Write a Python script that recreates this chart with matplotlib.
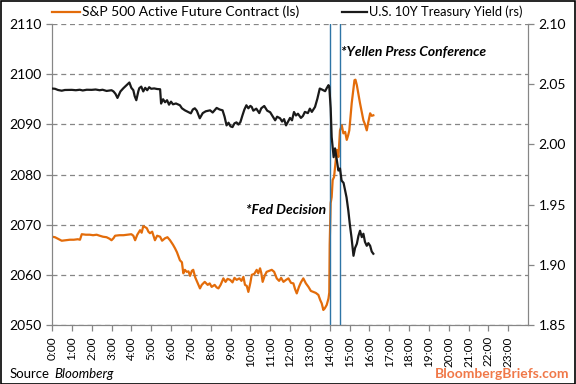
"""S&P 500 futures vs US 10Y yield around the Fed decision (intraday)."""

import matplotlib
matplotlib.use("Agg")
import matplotlib.pyplot as plt
from matplotlib.lines import Line2D
from matplotlib.patches import Rectangle

plt.rcParams["font.family"] = ["Lato", "DejaVu Sans"]

# intraday time in hours (0 = midnight)
sp_hours = [
    0.00, 0.15, 0.30, 0.49, 0.70, 0.90, 1.10, 1.30, 1.41, 1.50, 1.70, 1.90,
    2.07, 2.25, 2.40, 2.57, 2.75, 2.90, 3.00, 3.10, 3.18, 3.40, 3.60, 3.80,
    4.00, 4.10, 4.19, 4.30, 4.44, 4.52, 4.60, 4.70, 4.78, 4.86, 4.94, 5.05,
    5.19, 5.30, 5.45, 5.55, 5.70, 5.82, 5.95, 6.10, 6.20, 6.30, 6.45, 6.55,
    6.62, 6.70, 6.79, 6.88, 6.96, 7.05, 7.12, 7.22, 7.32, 7.46, 7.55, 7.70,
    7.85, 7.95, 8.05, 8.20, 8.30, 8.39, 8.50, 8.64, 8.75, 8.85, 8.98, 9.10,
    9.20, 9.31, 9.45, 9.55, 9.65, 9.73, 9.82, 9.90, 10.00, 10.07, 10.20, 10.32,
    10.40, 10.49, 10.55, 10.62, 10.72, 10.82, 10.95, 11.08, 11.20, 11.33, 11.45, 11.55,
    11.67, 11.80, 11.92, 12.05, 12.17, 12.25, 12.34, 12.45, 12.55, 12.67, 12.80, 12.93,
    13.05, 13.18, 13.30, 13.43, 13.52, 13.60, 13.68, 13.75, 13.85, 13.94, 13.98, 14.00,
    14.05, 14.10, 14.15, 14.22, 14.27, 14.36, 14.44, 14.52, 14.61, 14.69, 14.78, 14.86,
    14.93, 14.99, 15.05, 15.11, 15.18, 15.25, 15.30, 15.37, 15.45, 15.53, 15.62, 15.70,
    15.78, 15.87, 15.95, 16.04, 16.12, 16.20,
]
sp_values = [
    2067.6, 2067.5, 2067.2, 2066.8, 2066.9, 2067.0, 2067.0, 2067.1, 2067.0, 2068.1, 2068.0, 2068.0,
    2067.9, 2068.0, 2067.8, 2067.6, 2067.5, 2067.2, 2066.9, 2067.3, 2067.8, 2067.9, 2067.9, 2068.0,
    2068.1, 2067.8, 2066.9, 2068.0, 2068.9, 2068.4, 2069.7, 2069.5, 2069.3, 2068.6, 2068.3, 2068.6,
    2066.9, 2067.8, 2067.6, 2066.8, 2067.3, 2067.5, 2066.9, 2066.0, 2065.3, 2064.5, 2062.9, 2062.5,
    2060.3, 2061.0, 2060.6, 2060.7, 2059.8, 2060.8, 2061.0, 2059.5, 2058.6, 2057.3, 2058.0, 2058.6,
    2058.0, 2058.3, 2057.6, 2058.0, 2057.5, 2057.3, 2058.0, 2059.3, 2058.6, 2059.2, 2059.0, 2058.5,
    2059.4, 2059.0, 2059.3, 2058.8, 2059.6, 2058.0, 2057.8, 2056.6, 2058.4, 2060.0, 2060.2, 2061.0,
    2060.3, 2061.3, 2060.4, 2058.6, 2059.8, 2060.6, 2060.8, 2061.0, 2060.6, 2059.3, 2058.8, 2059.4,
    2058.6, 2059.0, 2059.3, 2058.4, 2058.3, 2057.2, 2056.3, 2057.6, 2058.5, 2059.3, 2058.3, 2057.6,
    2056.8, 2056.6, 2056.4, 2056.0, 2055.0, 2054.3, 2053.0, 2053.3, 2054.0, 2055.3, 2056.5, 2066.0,
    2074.3, 2075.5, 2078.9, 2079.5, 2081.5, 2084.9, 2083.5, 2088.8, 2089.8, 2088.2, 2088.5, 2086.9,
    2087.8, 2088.8, 2091.5, 2094.2, 2096.5, 2098.8, 2098.9, 2097.8, 2096.0, 2094.2, 2092.4, 2090.8,
    2090.0, 2088.8, 2090.5, 2092.2, 2091.7, 2091.8,
]

ty_hours = [
    0.00, 0.15, 0.30, 0.49, 0.65, 0.85, 1.00, 1.20, 1.40, 1.55, 1.75, 2.00,
    2.20, 2.40, 2.55, 2.75, 3.00, 3.10, 3.20, 3.30, 3.45, 3.60, 3.75, 3.90,
    4.00, 4.10, 4.17, 4.25, 4.35, 4.40, 4.50, 4.60, 4.70, 4.80, 4.90, 5.00,
    5.15, 5.30, 5.45, 5.50, 5.60, 5.70, 5.80, 5.90, 6.00, 6.10, 6.25, 6.45,
    6.55, 6.70, 6.85, 7.00, 7.10, 7.20, 7.30, 7.45, 7.60, 7.75, 7.97, 8.10,
    8.30, 8.45, 8.60, 8.70, 8.80, 8.90, 9.00, 9.10, 9.20, 9.30, 9.40, 9.50,
    9.60, 9.70, 9.80, 9.90, 10.00, 10.07, 10.15, 10.30, 10.45, 10.55, 10.70, 10.85,
    11.00, 11.10, 11.25, 11.35, 11.50, 11.60, 11.70, 11.80, 11.90, 12.00, 12.10, 12.20,
    12.30, 12.40, 12.55, 12.65, 12.75, 12.90, 13.00, 13.10, 13.26, 13.38, 13.50, 13.62,
    13.77, 13.86, 13.94, 13.98, 14.05, 14.10, 14.20, 14.27, 14.35, 14.44, 14.52, 14.60,
    14.70, 14.78, 14.85, 14.94, 15.02, 15.10, 15.20, 15.28, 15.37, 15.45, 15.53, 15.62,
    15.70, 15.78, 15.87, 15.95, 16.04, 16.12, 16.20,
]
ty_values = [
    2.0464, 2.0462, 2.0452, 2.0446, 2.0452, 2.0453, 2.0453, 2.0450, 2.0454, 2.0448, 2.0454, 2.0453,
    2.0456, 2.0450, 2.0454, 2.0444, 2.0450, 2.0440, 2.0420, 2.0386, 2.0440, 2.0467, 2.0490, 2.0514,
    2.0470, 2.0450, 2.0400, 2.0367, 2.0440, 2.0467, 2.0480, 2.0440, 2.0470, 2.0450, 2.0475, 2.0462,
    2.0465, 2.0460, 2.0458, 2.0339, 2.0375, 2.0350, 2.0367, 2.0330, 2.0355, 2.0333, 2.0340, 2.0325,
    2.0300, 2.0283, 2.0270, 2.0258, 2.0290, 2.0300, 2.0280, 2.0217, 2.0260, 2.0275, 2.0283, 2.0265,
    2.0303, 2.0290, 2.0283, 2.0230, 2.0158, 2.0180, 2.0150, 2.0144, 2.0175, 2.0183, 2.0165, 2.0186,
    2.0240, 2.0290, 2.0325, 2.0300, 2.0320, 2.0311, 2.0280, 2.0297, 2.0260, 2.0300, 2.0319, 2.0280,
    2.0267, 2.0240, 2.0200, 2.0230, 2.0217, 2.0190, 2.0210, 2.0158, 2.0190, 2.0220, 2.0200, 2.0269,
    2.0240, 2.0255, 2.0220, 2.0236, 2.0270, 2.0260, 2.0297, 2.0270, 2.0311, 2.0380, 2.0464, 2.0455,
    2.0442, 2.0470, 2.0492, 2.0478, 2.0300, 2.0061, 1.9894, 1.9967, 1.9880, 1.9783, 1.9800, 1.9700,
    1.9680, 1.9617, 1.9560, 1.9450, 1.9330, 1.9228, 1.9075, 1.9140, 1.9175, 1.9240, 1.9283, 1.9230,
    1.9258, 1.9190, 1.9158, 1.9180, 1.9158, 1.9110, 1.9092,
]

event_hours = [14.0, 14.5]  # Fed decision, Yellen press conference
hour_labels = [f"{h}:00" for h in range(24)]
sp_label = "S&P 500 Active Future Contract (ls)"
ty_label = "U.S. 10Y Treasury Yield (rs)"

ORANGE = "#E36C0A"
BLACK = "#1A1A1A"
BLUE = "#2E75A6"
GREY = "#868686"

fig = plt.figure(figsize=(5.76, 3.84), dpi=100)
ax = fig.add_axes([0.0903, 0.1536, 0.8264, 0.7839])
ax2 = ax.twinx()

ax.plot(sp_hours, sp_values, color=ORANGE, lw=1.6, zorder=3)
ax2.plot(ty_hours, ty_values, color=BLACK, lw=1.6, zorder=3)
for h in event_hours:
    ax.axvline(h, color=BLUE, lw=1.0, zorder=4)

ax.set_xlim(0, 24)
ax.set_ylim(2050, 2110)
ax2.set_ylim(1.85, 2.10)
ax.set_yticks(range(2050, 2111, 10))
ax2.set_yticks([1.85, 1.90, 1.95, 2.00, 2.05, 2.10])
ax2.set_yticklabels([f"{v:.2f}" for v in ax2.get_yticks()])
ax.set_xticks(range(24))
ax.set_xticklabels(hour_labels, rotation=90)

ax.yaxis.grid(True, color=GREY, ls=(0, (4, 3)), lw=0.9)
ax.set_axisbelow(True)

for a in (ax, ax2):
    a.spines["top"].set_visible(False)
    for s in ("left", "right", "bottom"):
        a.spines[s].set_color(GREY)
    a.tick_params(colors=GREY, labelcolor="black", labelsize=10,
                  length=4, width=0.9, direction="out")
ax.tick_params(axis="x", labelsize=8.5, pad=4)

ax.text(14.55, 2104.5, "*Yellen Press Conference", fontsize=10,
        fontweight="bold", style="italic", ha="left", va="center")
ax.text(13.8, 2073.0, "*Fed Decision", fontsize=10,
        fontweight="bold", style="italic", ha="right", va="center")

# legend drawn by hand above the plot, one entry on each side
leg_y = 1 - 12 / 384
fig.add_artist(Line2D([52 / 576, 80 / 576], [leg_y, leg_y], color=ORANGE, lw=1.6))
fig.text(82 / 576, leg_y, sp_label, fontsize=10, ha="left", va="center")
fig.add_artist(Line2D([342 / 576, 367 / 576], [leg_y, leg_y], color=BLACK, lw=1.6))
fig.text(369 / 576, leg_y, ty_label, fontsize=9.3, ha="left", va="center")

src = fig.text(10 / 576, 6 / 384, "Source", fontsize=9.5, ha="left", va="baseline")
fig.text(54 / 576, 6 / 384, "Bloomberg", fontsize=9.5, style="italic",
         ha="left", va="baseline")
fig.text(0.988, 6 / 384, "BloombergBriefs.com", fontsize=10, color="#F07848",
         fontweight="bold", ha="right", va="baseline")

fig.patches.append(Rectangle((0.001, 0.001), 0.997, 0.996, transform=fig.transFigure,
                             fill=False, edgecolor="black", lw=1.2))

fig.savefig("out.png", dpi=100)
